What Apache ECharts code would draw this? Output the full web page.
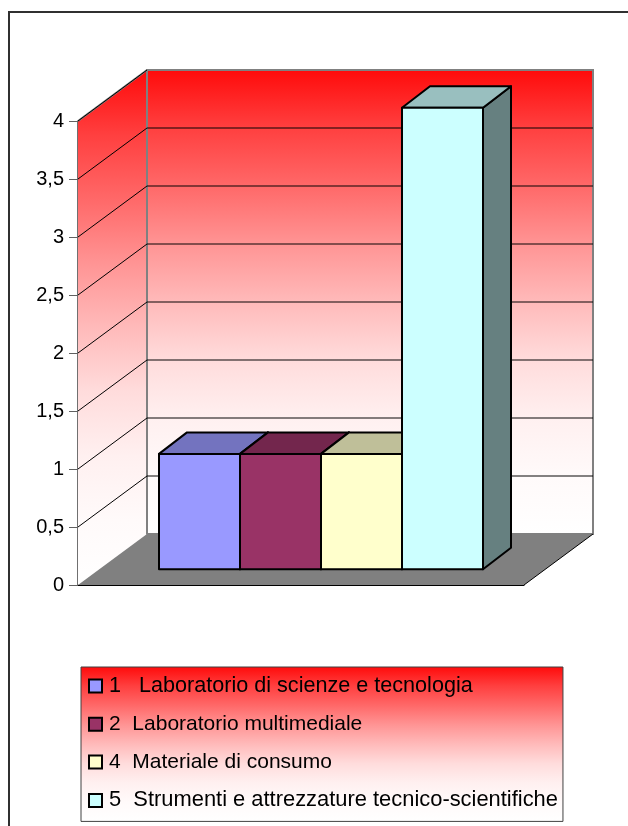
<!DOCTYPE html>
<html><head><meta charset="utf-8">
<style>html,body{margin:0;padding:0;background:#fff}#c{width:628px;height:826px}</style>
<script src="https://cdn.jsdelivr.net/npm/echarts@6/dist/echarts.min.js"></script>
</head><body><div id="c"></div>
<script>
const categories = ['1   Laboratorio di scienze e tecnologia','2  Laboratorio multimediale','4  Materiale di consumo','5  Strumenti e attrezzature tecnico-scientifiche'];
const values = [1, 1, 1, 4];
const barColors = ['#9999FF','#993366','#FFFFCC','#CCFFFF'];
const barTops = ['#7373BF','#73264D','#BFBF99','#99BFBF'];
const barSides = ['#4D4D80','#4D1A33','#808066','#668080'];
const legendFontSizes = [21.6,21,21,21.9];
const wallTicks = [0.5,1,1.5,2,2.5,3,3.5,4];
const WALL_DX = 69, WALL_DY = -51, BAR_DX = 28, BAR_DY = -21.5;
const redFade = {type:'linear',x:0,y:0,x2:0,y2:1,colorStops:[
  {offset:0,color:'#ff0a0a'},{offset:.125,color:'#ff3f3f'},{offset:.25,color:'#ff6868'},
  {offset:.375,color:'#ff9494'},{offset:.5,color:'#ffbaba'},{offset:.625,color:'#ffdcdc'},
  {offset:.75,color:'#fff0f0'},{offset:.875,color:'#fffafa'},{offset:1,color:'#ffffff'}]};

function wallsItem(p, api){
  const a = api.coord([0,0]), b = api.coord([1,0]), t = api.coord([0,4]);
  const bx=a[0]+WALL_DX, by=a[1]+WALL_DY, ty=t[1]+WALL_DY, rx=b[0]+WALL_DX;
  return {type:'group',children:[
    {type:'polygon',shape:{points:[[bx,ty],[rx,ty],[rx,by],[bx,by]]},style:{fill:redFade,stroke:'#808080',lineWidth:2}},
    {type:'polygon',shape:{points:[[t[0],t[1]],[bx,ty],[bx,by],[a[0],a[1]]]},style:{fill:redFade,stroke:null}},
    {type:'polygon',shape:{points:[[a[0],a[1]],[bx,by],[rx,by],[b[0],b[1]]]},style:{fill:'#808080',stroke:null}},
    {type:'line',shape:{x1:t[0],y1:t[1],x2:bx,y2:ty},style:{stroke:'#808080',lineWidth:2}},
    {type:'line',shape:{x1:bx,y1:ty,x2:bx,y2:by},style:{stroke:'#808080',lineWidth:2}},
    {type:'line',shape:{x1:b[0],y1:b[1],x2:rx,y2:by},style:{stroke:'#000',lineWidth:1}}
  ]};
}
function gridItem(p, api){
  const v = api.value(0);
  const a = api.coord([0,v]), b = api.coord([1,v]);
  const ch = [{type:'line',shape:{x1:a[0],y1:a[1],x2:a[0]+WALL_DX,y2:a[1]+WALL_DY},style:{stroke:'#000',lineWidth:1}}];
  if (v < 4) ch.push({type:'line',shape:{x1:a[0]+WALL_DX,y1:a[1]+WALL_DY,x2:b[0]+WALL_DX,y2:b[1]+WALL_DY},style:{stroke:'#000',lineWidth:1.5,opacity:.65}});
  return {type:'group',children:ch};
}
function barItem(i){
  return function(p, api){
    const c = api.coord([api.value(0), api.value(1)]), z = api.coord([api.value(0), 0]);
    const w = api.size([1,0])[0], l = c[0]-w/2, r = c[0]+w/2, t = c[1], b = z[1];
    const s = {stroke:'#000',lineWidth:2,lineJoin:'round'};
    return {type:'group',children:[
      {type:'polygon',shape:{points:[[r,t],[r+BAR_DX,t+BAR_DY],[r+BAR_DX,b+BAR_DY],[r,b]]},style:{fill:barSides[i],...s}},
      {type:'polygon',shape:{points:[[l,t],[l+BAR_DX,t+BAR_DY],[r+BAR_DX,t+BAR_DY],[r,t]]},style:{fill:barTops[i],...s}},
      {type:'rect',shape:{x:l,y:t,width:w,height:b-t},style:{fill:barColors[i],...s}}
    ]};
  };
}
const series = [
  {type:'custom',name:'walls',xAxisIndex:0,yAxisIndex:0,data:[[0]],renderItem:wallsItem,silent:true,z:1},
  {type:'custom',name:'grid',xAxisIndex:0,yAxisIndex:0,data:wallTicks.map(v=>[v]),renderItem:gridItem,silent:true,z:2}
];
categories.forEach((name,i)=>{
  series.push({type:'custom',name,xAxisIndex:1,yAxisIndex:1,z:3+i,silent:true,
    itemStyle:{color:barColors[i],borderColor:'#000',borderWidth:1.5},
    data:[[i,values[i]]],renderItem:barItem(i)});
});
const chart = echarts.init(document.getElementById('c'),null,{renderer:'canvas'});
chart.setOption({
  animation:false,backgroundColor:'#fff',
  graphic:[{type:'polyline',z:0,shape:{points:[[9,840],[9,12],[640,12]]},style:{fill:'none',stroke:'#303030',lineWidth:2}}],
  grid:[{left:78,top:121,width:446,height:464},{left:159,top:107.7,width:324,height:461.6}],
  xAxis:[
    {gridIndex:0,type:'value',min:0,max:1,axisLabel:{show:false},axisTick:{show:false},splitLine:{show:false},axisLine:{show:true,onZero:false,lineStyle:{color:'#000',width:1}}},
    {gridIndex:1,type:'category',data:categories,show:false}
  ],
  yAxis:[
    {gridIndex:0,type:'value',min:0,max:4,interval:.5,splitLine:{show:false},
     axisLine:{show:true,onZero:false,lineStyle:{color:'#404040',width:1.5}},
     axisTick:{show:true,length:9,lineStyle:{color:'#606060',width:1}},
     axisLabel:{margin:14,color:'#000',fontFamily:'Liberation Sans',fontSize:20,formatter:v=>String(v).replace('.',',')}},
    {gridIndex:1,type:'value',min:0,max:4,show:false}
  ],
  legend:{orient:'vertical',left:81,top:667,height:190,padding:[8,5,10,7],itemWidth:13,itemHeight:13,itemGap:16.8,
    data:categories.map((name,i)=>({name,textStyle:{fontSize:legendFontSizes[i]}})),icon:'rect',selectedMode:false,
    backgroundColor:redFade,borderColor:'#404040',borderWidth:1,
    textStyle:{fontFamily:'Liberation Sans',fontSize:21,color:'#000',padding:[0,0,0,2]}},
  series
});
</script></body></html>
